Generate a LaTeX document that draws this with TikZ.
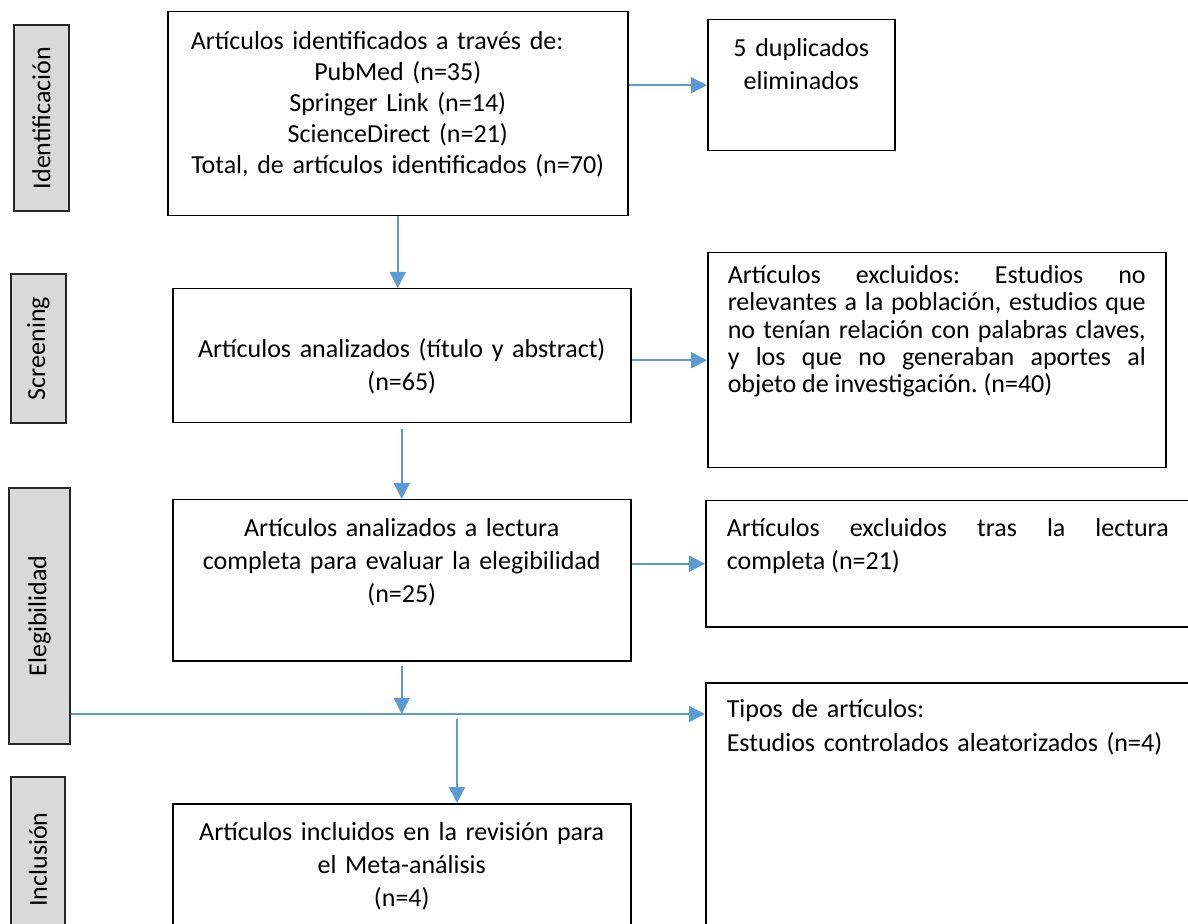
\documentclass[tikz,border=0pt]{standalone}
\usepackage{fontspec}
\setmainfont{Carlito}
\frenchspacing
\usepackage{tikz}
\usetikzlibrary{arrows.meta}
\definecolor{FlowBlue}{RGB}{91,155,213}
\definecolor{PhaseGray}{RGB}{217,217,217}
\tikzset{
  stagebox/.style={draw=black, line width=0.75pt, inner xsep=0pt, inner ysep=0pt, align=center,
    anchor=north west, font=\fontsize{13}{16.5}\selectfont},
  notebox/.style={stagebox, inner xsep=10.5pt, align=justify},
  phase/.style={draw=black!85, line width=0.8pt, fill=PhaseGray, rotate=90, inner sep=0pt,
    font=\fontsize{13}{15}\selectfont},
  arr/.style={-{Triangle[length=8pt, width=8pt]}, line width=0.75pt, FlowBlue},
}

\begin{document}
\begin{tikzpicture}[x=0.5pt, y=-0.5pt]
  \useasboundingbox (0,0) rectangle (1188,924);
  \clip (0,0) rectangle (1188,924);
  \node[phase, minimum width=93pt, minimum height=27.5pt] (pid) at (41.5,118) {Identificación};
  \node[phase, minimum width=74.5pt, minimum height=27.5pt] (pscr) at (38.5,348.5) {Screening};
  \node[phase, minimum width=128pt, minimum height=30.5pt] (pele) at (39.5,616) {Elegibilidad};
  \node[phase, minimum width=82.5pt, minimum height=27pt] (pinc) at (38,859.5) {Inclusión};

  \node[stagebox, text width=230pt, text height=19pt, text depth=83pt, font=\fontsize{13}{15.5}\selectfont] (ident) at (167,11)
    {\makebox[207pt][l]{Artículos identificados a través de:}\\ PubMed (n=35)\\ Springer Link (n=14)\\ ScienceDirect (n=21)\\ Total, de artículos identificados (n=70)};
  \node[stagebox, text width=93.5pt, text height=18.5pt, text depth=47pt] (dup) at (707,19) {5 duplicados\\ eliminados};
  \node[stagebox, text width=229pt, text height=34.5pt, text depth=32.5pt] (screen) at (172,288)
    {Artículos analizados (título y abstract)\\ (n=65)};
  \node[notebox, inner xsep=10pt, text width=209pt, text height=15.5pt, text depth=92pt, font=\fontsize{13}{13.6}\selectfont] (excl) at (707,252)
    {Artículos excluidos: Estudios no\linebreak relevantes a la población, estudios que\linebreak no tenían relación con palabras claves,\linebreak y los que no generaban aportes al\linebreak objeto de investigación. (n=40)};
  \node[stagebox, text width=229pt, text height=18.5pt, text depth=62pt] (elig) at (172,499)
    {Artículos analizados a lectura\\ completa para evaluar la elegibilidad\\ (n=25)};
  \node[notebox, text width=221pt, text height=18pt, text depth=45pt] (excl2) at (705,500)
    {Artículos excluidos tras la lectura\linebreak completa (n=21)};
  \node[notebox, align=left, text width=221pt, text height=17.5pt, text depth=140pt, font=\fontsize{13}{17}\selectfont] (tipos) at (705,682)
    {Tipos de artículos:\\ Estudios controlados aleatorizados (n=4)};
  \node[stagebox, text width=229pt, text height=18.5pt, text depth=70pt] (incl) at (172,803)
    {Artículos incluidos en la revisión para\\ el Meta-análisis\\ (n=4)};

  \coordinate (bar) at (400,714);
  \coordinate (drop) at (457,719);
  \draw[arr] (ident.east |- dup.west) -- (dup.west);
  \draw[arr] (ident.south) -- (ident.south |- screen.north);
  \draw[arr] (screen.east |- excl.west) -- (excl.west);
  \draw[arr, shorten <=3pt] (screen.south) -- (elig.north);
  \draw[arr] (elig.east |- excl2.west) -- (excl2.west);
  \draw[arr, shorten <=2pt] (elig.south) -- (elig.south |- bar);
  \draw[arr] (pele.south |- bar) -- (bar -| tipos.west);
  \draw[arr] (drop) -- (drop |- incl.north);
\end{tikzpicture}
\end{document}
